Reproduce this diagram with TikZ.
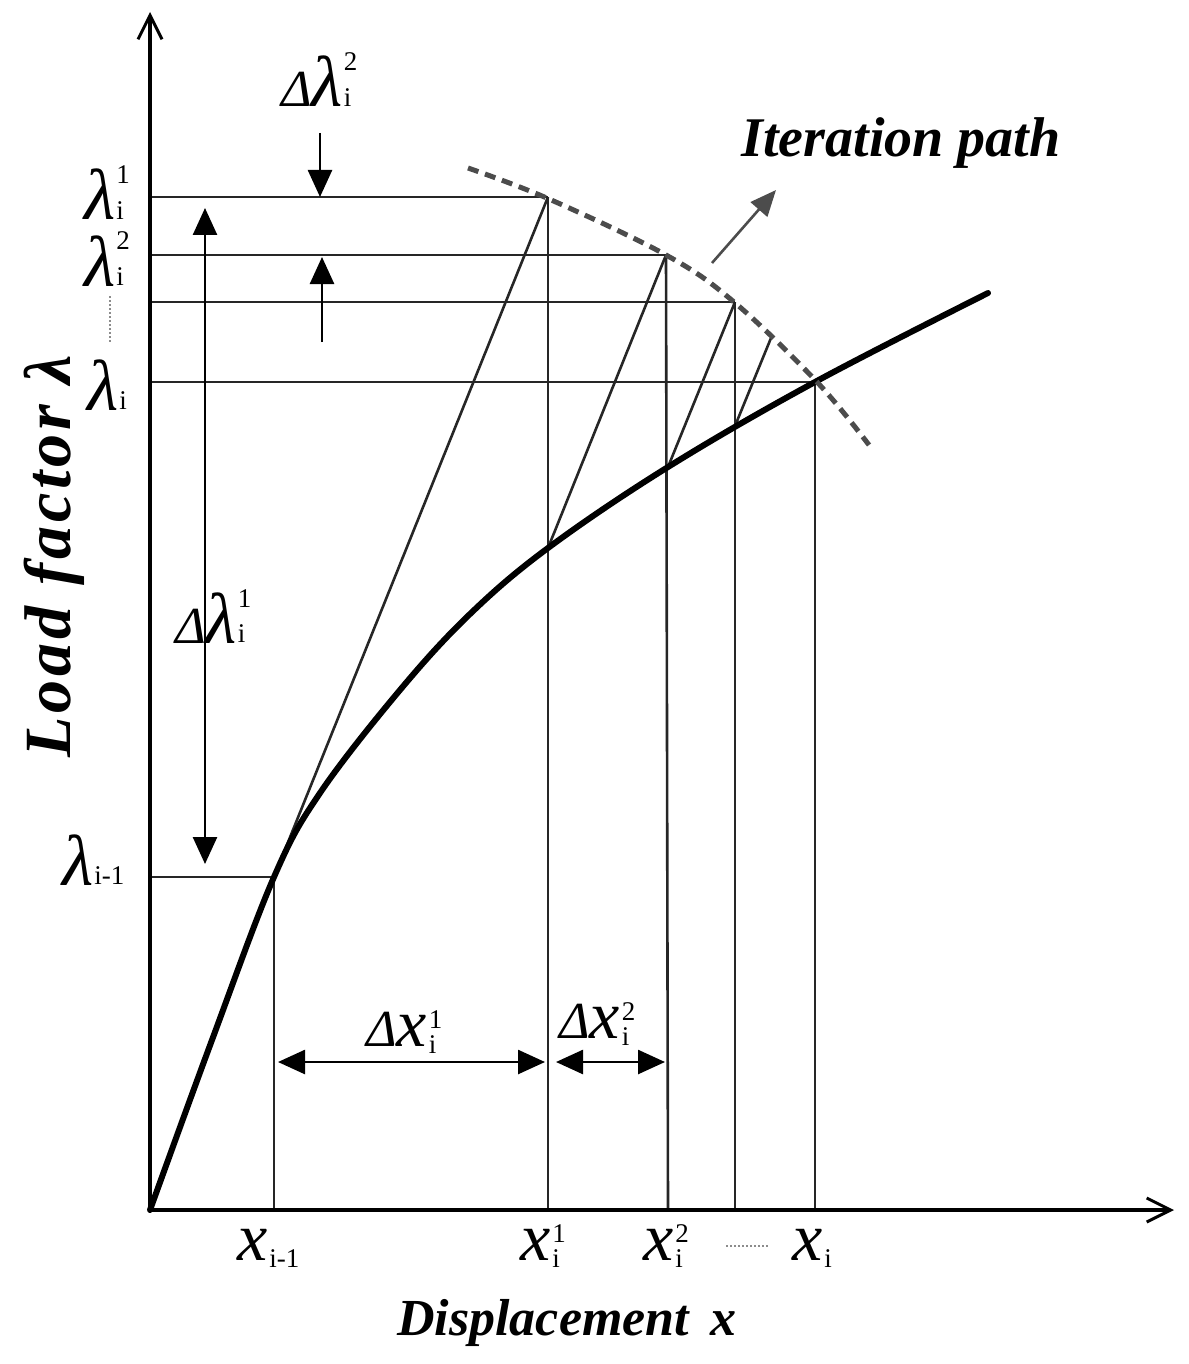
\documentclass[tikz,border=0pt]{standalone}
\usepackage{fontspec}
\setmainfont{Liberation Serif}
\usetikzlibrary{arrows.meta}
\newcommand\mainsz{\fontsize{72}{76}\selectfont}
\newcommand\scsz{\fontsize{27}{29}\selectfont}
\newcommand\dltsz{\fontsize{52}{56}\selectfont}
\newcommand\dlt{{\dltsz\itshape Δ}}
\newcommand\lamlab[2]{{\itshape λ}\kern1pt\rlap{\raisebox{0.5em}{\scsz #1}}\raisebox{0.01em}{\scsz #2}}
\newcommand\xlab[2]{{\fontsize{68}{72}\selectfont\itshape x}\kern2pt\rlap{\raisebox{0.25em}{\scsz #1}}\raisebox{-0.1em}{\scsz #2}}
\begin{document}
\begin{tikzpicture}[x=1pt,y=-1pt,
  thinline/.style={line width=2.6pt, draw=black!85},
  axisline/.style={line width=4.5pt, -{Straight Barb[length=24pt,width=24pt,line width=3pt]}},
  fillarrow/.style={line width=2.6pt, -{Triangle[length=27pt,width=24pt]}},
  dblarrow/.style={line width=2.6pt, {Triangle[length=27pt,width=24pt]}-{Triangle[length=27pt,width=24pt]}},
  mathlab/.style={font=\mainsz, inner sep=0pt, anchor=base west},
  titlelab/.style={font=\fontsize{56}{60}\selectfont\bfseries\itshape, inner sep=0pt}]
\useasboundingbox (0,0) rectangle (1188,1364);
% key coordinates
\coordinate (O) at (150,1210);
\coordinate (ytop) at (150,12);
\coordinate (xend) at (1174,1210);
\coordinate (P0) at (274,877);
\coordinate (P1) at (548,548);
\coordinate (P2) at (668,467);
\coordinate (P3) at (735,426);
\coordinate (P4) at (815,382);
\coordinate (Q1) at (548,197);
\coordinate (Q2) at (666,255);
\coordinate (Q3) at (735,302);
\coordinate (Q4) at (771,338);
\coordinate (Y1) at (150,197);
\coordinate (Y2) at (150,255);
\coordinate (Y3) at (150,302);
\coordinate (Y4) at (150,382);
\coordinate (Y0) at (150,877);
\coordinate (X0) at (274,1210);
\coordinate (X1) at (548,1210);
\coordinate (X2) at (668,1210);
\coordinate (X3) at (735,1210);
\coordinate (X4) at (815,1210);
% horizontal lines
\draw[thinline] (Y1) -- (Q1);
\draw[thinline] (Y2) -- (Q2);
\draw[thinline] (Y3) -- (Q3);
\draw[thinline] (Y4) -- (P4);
\draw[thinline] (Y0) -- (P0);
% vertical lines
\draw[thinline] (P0) -- (X0);
\draw[thinline] (Q1) -- (X1);
\draw[thinline] (Q2) -- (X2);
\draw[thinline] (Q3) -- (X3);
\draw[thinline] (P4) -- (X4);
% iteration lines
\draw[thinline] (P0) -- (Q1);
\draw[thinline] (P1) -- (Q2);
\draw[thinline] (P2) -- (Q3);
\draw[thinline] (P3) -- (Q4);
% curve
\draw[line width=6pt, line cap=round] plot[smooth, tension=0.6] coordinates
  {(150,1210) (212,1040) (274,877) (320,793) (400,690) (470,614) (548,548) (668,467) (815,382) (988,293)};
% dashed iteration path
\draw[line width=5pt, draw=black!70, dash pattern=on 11pt off 7pt] plot[smooth, tension=0.6] coordinates
  {(468,168) (549,199) (666,255) (734,302) (817,382) (869,445)};
% axes
\draw[axisline] (O) -- (ytop);
\draw[axisline] (O) -- (xend);
% iteration path label and arrow
\node[titlelab] (itp) at (901,143) {Iteration path};
\coordinate (ga) at (712,263);
\coordinate (gb) at (776,190);
\draw[line width=2.6pt, draw=black!70, -{Triangle[length=26pt,width=22pt]}, black!70] (ga) -- (gb);
% lambda labels
\node[mathlab] (l1) at (84,220) {\lamlab{1}{i}};
\node[mathlab] (l2) at (84,286) {\lamlab{2}{i}};
\node[mathlab] (li) at (87,410) {\lamlab{}{i}};
\node[mathlab] (lim) at (62,885) {\lamlab{}{i-1}};
\draw[line width=2pt, draw=black!45, dotted] (110,296) -- (110,342);
% delta lambda 2
\node[mathlab] (dl2) at (281,107) {\dlt\lamlab{2}{i}};
\coordinate (a1s) at (320,133);
\coordinate (a1e) at (320,197);
\draw[fillarrow] (a1s) -- (a1e);
\coordinate (a2s) at (322,342);
\coordinate (a2e) at (322,257);
\draw[fillarrow] (a2s) -- (a2e);
% delta lambda 1
\coordinate (b1) at (205,208);
\coordinate (b2) at (205,864);
\draw[dblarrow] (b1) -- (b2);
\node[mathlab] (dl1) at (175,643) {\dlt\lamlab{1}{i}};
% delta x arrows
\coordinate (c1) at (278,1062);
\coordinate (c2) at (545,1062);
\coordinate (c3) at (556,1062);
\coordinate (c4) at (665,1062);
\draw[dblarrow] (c1) -- (c2);
\draw[dblarrow] (c3) -- (c4);
\node[mathlab] (dx1) at (366,1046) {\dlt\xlab{1}{i}};
\node[mathlab] (dx2) at (559,1038) {\dlt\xlab{2}{i}};
% x labels
\node[mathlab] (x0) at (237,1260) {\xlab{}{i-1}};
\node[mathlab] (x1) at (520,1260) {\xlab{1}{i}};
\node[mathlab] (x2) at (643,1260) {\xlab{2}{i}};
\node[mathlab] (xi) at (792,1260) {\xlab{}{i}};
\draw[line width=2pt, draw=black!45, dotted] (726,1246) -- (768,1246);
% axis titles
\node[font=\fontsize{52}{60}\selectfont\bfseries\itshape, inner sep=0pt] (xt) at (567,1323) {Displacement\, x};
\node[font=\fontsize{66}{70}\selectfont\bfseries\itshape\addfontfeature{LetterSpace=6}, inner sep=0pt, rotate=90] (yt) at (54,556) {Load factor λ};
\end{tikzpicture}
\end{document}
